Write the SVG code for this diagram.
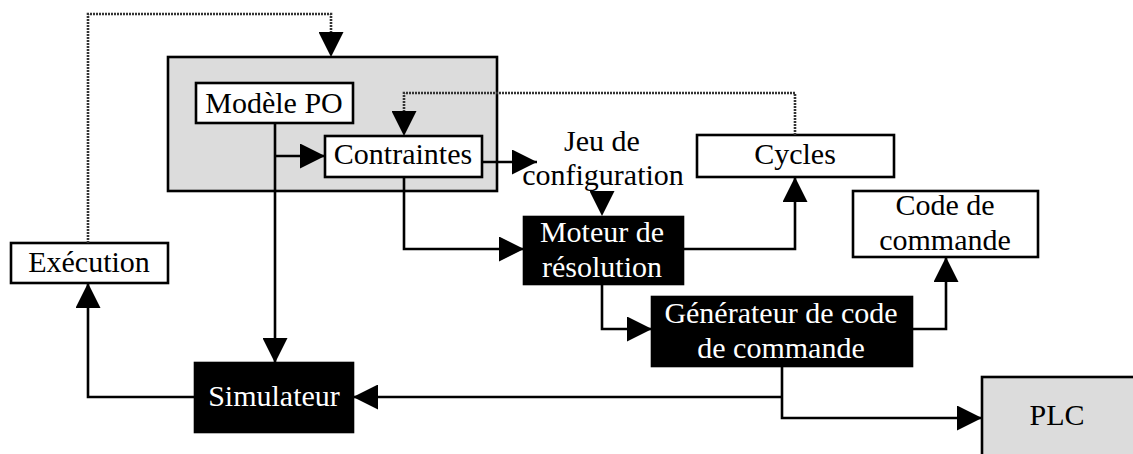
<svg xmlns="http://www.w3.org/2000/svg" width="1133" height="454" viewBox="0 0 1133 454">
<style>
.box{fill:#fff;stroke:#000;stroke-width:2.6}
.grey{fill:#dcdcdc;stroke:#000;stroke-width:2.6}
.dark{fill:#000;stroke:#000;stroke-width:2.6}
text{font-family:"Liberation Serif","Times New Roman",serif;font-size:30px;text-anchor:middle;fill:#000}
.w{fill:#fff}
.c{fill:none;stroke:#000;stroke-width:2.6}
.d{fill:none;stroke:#333;stroke-width:2.6;stroke-dasharray:2 1}
</style>
<defs>
<marker id="ah" markerUnits="userSpaceOnUse" markerWidth="25" markerHeight="25" refX="25" refY="12.5" orient="auto">
<path d="M0,0 L25,12.5 L0,25 z" fill="#000"/>
</marker>
</defs>
<rect width="1133" height="454" fill="#fff"/>
<g id="poGroup"><rect class="grey" x="168" y="57" width="329" height="134"/></g>
<g id="modelePO"><rect class="box" x="196" y="83" width="157" height="40"/><text x="274" y="113">Modèle PO</text></g>
<g id="contraintes"><rect class="box" x="325" y="136" width="157" height="41"/><text x="403" y="164">Contraintes</text></g>
<g id="jeuConfig"><text x="602" y="151">Jeu de</text><text x="603" y="185">configuration</text></g>
<g id="cycles"><rect class="box" x="697" y="135" width="197" height="42"/><text x="795" y="164">Cycles</text></g>
<g id="codeCommande"><rect class="box" x="853" y="191" width="185" height="66"/><text x="945" y="215">Code de</text><text x="945" y="250">commande</text></g>
<g id="moteur"><rect class="dark" x="524" y="217" width="159" height="67"/><text class="w" x="602" y="242">Moteur de</text><text class="w" x="602" y="277">résolution</text></g>
<g id="generateur"><rect class="dark" x="652" y="297" width="260" height="69"/><text class="w" x="781" y="323">Générateur de code</text><text class="w" x="781" y="358">de commande</text></g>
<g id="execution"><rect class="box" x="11" y="243" width="157" height="40"/><text x="89" y="272">Exécution</text></g>
<g id="simulateur"><rect class="dark" x="195" y="363" width="158" height="69"/><text class="w" x="274" y="406">Simulateur</text></g>
<g id="plc"><rect class="grey" x="982" y="377" width="170" height="100"/><text x="1057" y="425">PLC</text></g>
<g id="connectors">
<path class="d" d="M88,243 L88,14 L331,14 L331,33"/>
<path d="M331,32 L331,57" fill="none" marker-end="url(#ah)"/>
<path class="d" d="M795,135 L795,93 L404,93 L404,113"/>
<path d="M404,111 L404,136" fill="none" marker-end="url(#ah)"/>
<path class="c" d="M275,123 L275,363" marker-end="url(#ah)"/>
<path class="c" d="M275,156 L325,156" marker-end="url(#ah)"/>
<path class="c" d="M482,162 L537,162" marker-end="url(#ah)"/>
<path class="c" d="M404,177 L404,249 L524,249" marker-end="url(#ah)"/>
<path d="M602,191 L602,216" fill="none" marker-end="url(#ah)"/>
<path class="c" d="M683,249 L795,249 L795,177" marker-end="url(#ah)"/>
<path class="c" d="M602,284 L602,329 L652,329" marker-end="url(#ah)"/>
<path class="c" d="M912,329 L946,329 L946,257" marker-end="url(#ah)"/>
<path class="c" d="M782,366 L782,418 L982,418" marker-end="url(#ah)"/>
<path class="c" d="M782,397 L353,397" marker-end="url(#ah)"/>
<path class="c" d="M195,397 L88,397 L88,283" marker-end="url(#ah)"/>
</g>
</svg>
